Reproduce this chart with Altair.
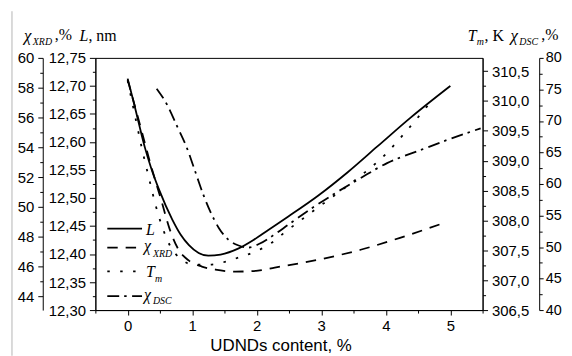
import altair as alt
import pandas as pd

# ---- data ----
L_x = [0.0, 0.10, 0.18, 0.27, 0.36, 0.49, 0.69, 0.82, 0.95, 1.10, 1.25, 1.44, 1.72, 1.95, 2.18, 2.49, 2.95, 3.41, 3.87, 4.38, 5.0]
L_y = [12.713, 12.668, 12.630, 12.589, 12.555, 12.514, 12.462, 12.435, 12.416, 12.402, 12.397, 12.399, 12.410, 12.425, 12.443, 12.467, 12.504, 12.546, 12.592, 12.643, 12.700]

XRD_x = [0.0, 0.19, 0.36, 0.52, 0.65, 0.79, 0.95, 1.15, 1.36, 1.67, 2.02, 2.28, 2.95, 3.61, 4.22, 4.90]
XRD_y = [58.53, 55.53, 52.79, 50.46, 48.52, 47.12, 46.39, 45.99, 45.79, 45.65, 45.72, 45.92, 46.45, 47.12, 47.92, 48.92]

TM_x = [0.0, 0.13, 0.22, 0.33, 0.44, 0.55, 0.67, 0.82, 1.02, 1.25, 1.52, 1.72, 1.98, 2.21, 2.41, 2.84, 3.22, 3.59, 3.98, 4.33, 4.68]
TM_y = [310.34, 309.67, 309.21, 308.71, 308.23, 307.85, 307.55, 307.36, 307.26, 307.26, 307.31, 307.38, 307.48, 307.61, 307.78, 308.13, 308.43, 308.73, 309.09, 309.51, 309.96]

DSC_x = [0.45, 0.61, 0.76, 0.92, 1.05, 1.18, 1.29, 1.41, 1.56, 1.72, 1.87, 2.05, 2.25, 2.49, 2.84, 3.25, 3.61, 4.02, 4.53, 5.02, 5.47]
DSC_y = [75.12, 72.60, 69.29, 65.67, 61.89, 58.11, 55.43, 53.07, 51.18, 50.24, 49.92, 50.55, 51.81, 53.54, 56.06, 58.74, 60.94, 63.31, 65.35, 67.24, 68.82]

X_TICKS = [-0.5 + 0.5 * i for i in range(13)]
L_TICKS = [round(12.30 + 0.025 * i, 3) for i in range(19)]
XRD_TICKS = list(range(44, 61))
TM_TICKS = [306.5 + 0.25 * i for i in range(17)]
DSC_TICKS = [40 + 2.5 * i for i in range(17)]

dfL = pd.DataFrame({"x": L_x, "v": L_y})
dfX = pd.DataFrame({"x": XRD_x, "v": XRD_y})
dfT = pd.DataFrame({"x": TM_x, "v": TM_y})
dfD = pd.DataFrame({"x": DSC_x, "v": DSC_y})

AX = dict(domainColor="black", domainWidth=1, tickColor="black", tickWidth=1,
          labelColor="black", labelFont="Liberation Sans",
          grid=False, title=None, labelOverlap=False, labelFlush=False)


def tsize(test, minor=3, major=6):
    return {"condition": {"test": test, "value": minor}, "value": major}


x_enc = alt.X("x:Q", scale=alt.Scale(domain=[-0.5, 5.5], nice=False, zero=False),
              axis=alt.Axis(values=X_TICKS, labelPadding=4, labelFontSize=15,
                            labelExpr="abs(datum.value % 1) < 0.01 ? format(datum.value, 'd') : ''",
                            tickSize=tsize("abs(datum.value % 1) > 0.01", 3, 5), **AX))

SW = 1.8
lineL = alt.Chart(dfL).mark_line(interpolate="monotone", color="black", strokeWidth=SW).encode(
    x=x_enc,
    y=alt.Y("v:Q", scale=alt.Scale(domain=[12.30, 12.75], nice=False, zero=False),
            axis=alt.Axis(orient="left", offset=0, values=L_TICKS, labelPadding=4, labelFontSize=15,
                          labelExpr="round(datum.value*1000) % 50 === 0 ? replace(format(datum.value, '.2f'), '.', ',') : ''",
                          tickSize=tsize("round(datum.value*1000) % 50 !== 0", 3, 6), **AX)))

lineX = alt.Chart(dfX).mark_line(interpolate="monotone", color="black", strokeWidth=SW,
                                 strokeDash=[10.5, 8]).encode(
    x=x_enc,
    y=alt.Y("v:Q", scale=alt.Scale(domain=[43.07, 60], nice=False, zero=False),
            axis=alt.Axis(orient="left", offset=53, values=XRD_TICKS, labelPadding=4, labelFontSize=15,
                          labelExpr="datum.value % 2 === 0 ? format(datum.value, 'd') : ''",
                          tickSize=tsize("datum.value % 2 !== 0", 3, 5), **AX)))

lineT = alt.Chart(dfT).mark_line(interpolate="monotone", color="black", strokeWidth=SW,
                                 strokeDash=[2.5, 10.5]).encode(
    x=x_enc,
    y=alt.Y("v:Q", scale=alt.Scale(domain=[306.5, 310.72], nice=False, zero=False),
            axis=alt.Axis(orient="right", offset=0, values=TM_TICKS, labelPadding=4, labelFontSize=15,
                          labelExpr="round(datum.value*100) % 50 === 0 ? replace(format(datum.value, '.1f'), '.', ',') : ''",
                          tickSize=tsize("round(datum.value*100) % 50 !== 0", 3, 5), **AX)))

lineD = alt.Chart(dfD).mark_line(interpolate="monotone", color="black", strokeWidth=SW,
                                 strokeDash=[12, 5, 2.5, 5.5]).encode(
    x=x_enc,
    y=alt.Y("v:Q", scale=alt.Scale(domain=[40, 80], nice=False, zero=False),
            axis=alt.Axis(orient="right", offset=57, values=DSC_TICKS, labelPadding=2, labelFontSize=14.5,
                          labelExpr="datum.value % 5 === 0 ? format(datum.value, 'd') : ''",
                          tickSize=tsize("datum.value % 5 !== 0", 3, 4), **AX)))

dummy = pd.DataFrame({"d": [0]})


def txt(s, x, y, size=16, style="italic", font="Liberation Serif", align="left"):
    return alt.Chart(dummy).mark_text(text=s, font=font, fontSize=size, fontStyle=style,
                                      align=align, baseline="alphabetic", color="black").encode(
        x=alt.value(x), y=alt.value(y))


def rule(x1, x2, y, dash=None, color="black", width=SW):
    kw = dict(color=color, strokeWidth=width)
    if dash:
        kw["strokeDash"] = dash
    return alt.Chart(dummy).mark_rule(**kw).encode(x=alt.value(x1), x2=alt.value(x2), y=alt.value(y))


SUB = 10
ann = [
    # axis titles
    txt("χ", -72, -17, 17), txt("XRD", -63, -13, SUB), txt(",%", -41, -18, 16, "normal"),
    txt("L", -16, -17, 16), txt(", nm", -7, -17, 16, "normal"),
    txt("T", 375, -17, 16), txt("m", 384, -13, SUB), txt(", K", 392, -17, 16, "normal"),
    txt("χ", 418, -17, 17), txt("DSC", 427, -13, SUB), txt(",%", 449, -18, 16, "normal"),
    txt("UDNDs content, %", 187, 295, 17, "normal", "Liberation Sans", "center"),
    # legend
    rule(12, 47, 172), txt("L", 51, 178, 16),
    rule(12, 47, 191, [10.5, 8]), txt("χ", 49, 194, 16), txt("XRD", 58, 201, SUB),
    rule(12, 47, 215, [2.5, 10.5]), txt("T", 51, 221, 16), txt("m", 60, 226, SUB),
    rule(12, 47, 240, [12, 5, 2.5, 5.5]), txt("χ", 49, 244, 16), txt("DSC", 58, 248, SUB),
    # page margin line
    alt.Chart(dummy).mark_rule(color="#b4b4b4", strokeWidth=1).encode(
        x=alt.value(-84), y=alt.value(-47), y2=alt.value(300)),
]

chart = alt.layer(lineL, lineX, lineT, lineD, *ann).resolve_scale(y="independent").properties(
    width=390, height=254,
    padding={"left": 88, "top": 49, "right": 82, "bottom": 45},
    autosize=alt.AutoSizeParams(type="none"),
    background="white",
).configure_view(stroke="black", strokeWidth=1)

chart.save("out.html", embed_options={"renderer": "svg", "actions": False})
